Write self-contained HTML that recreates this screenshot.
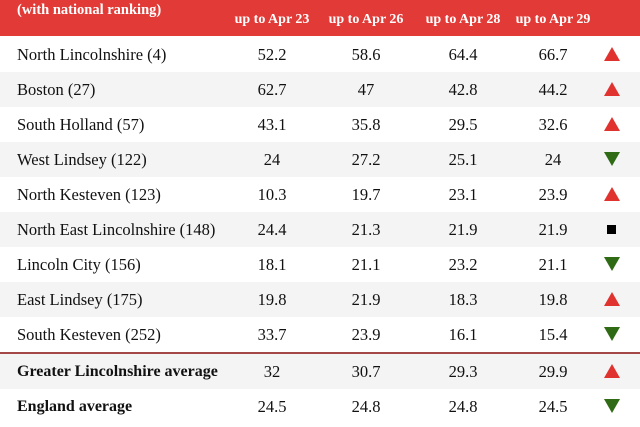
<!DOCTYPE html>
<html><head><meta charset="utf-8"><style>
body{margin:0;width:640px;height:427px;background:#fff;overflow:hidden;font-family:"Liberation Serif",serif;}
#t{position:relative;width:640px;height:427px;}
.hdr{position:absolute;left:0;top:0;width:640px;height:36px;background:#e23b37;}
.h{position:absolute;color:#fff;font-weight:bold;font-size:14px;white-space:nowrap;}
.row{position:absolute;left:0;width:640px;height:35px;}
.c{position:absolute;font-size:16.5px;color:#111;white-space:nowrap;line-height:35px;top:0;}
.n{transform:translateX(-50%);}
.tri{position:absolute;top:10px;left:604px;width:0;height:0;border-left:8px solid transparent;border-right:8px solid transparent;}
.up{border-bottom:14px solid #e0332f;}
.dn{border-top:14px solid #2f6a14;}
.sq{position:absolute;top:13px;left:607px;width:9px;height:9px;background:#000;}
.div{position:absolute;left:0;top:352px;width:640px;height:2px;background:#a34747;}
</style></head><body>
<div id="t">
<div class="hdr">
<div class="h" style="left:17px;top:2px;font-size:14.5px">(with national ranking)</div>
<div class="h n" style="left:272px;top:12px">up to Apr 23</div>
<div class="h n" style="left:366px;top:12px">up to Apr 26</div>
<div class="h n" style="left:463px;top:12px">up to Apr 28</div>
<div class="h n" style="left:553px;top:12px">up to Apr 29</div>
</div>
<div class="div"></div>
</div>
<script>
const areas=["North Lincolnshire (4)","Boston (27)","South Holland (57)","West Lindsey (122)","North Kesteven (123)","North East Lincolnshire (148)","Lincoln City (156)","East Lindsey (175)","South Kesteven (252)","Greater Lincolnshire average","England average"];
const apr23=["52.2","62.7","43.1","24","10.3","24.4","18.1","19.8","33.7","32","24.5"];
const apr26=["58.6","47","35.8","27.2","19.7","21.3","21.1","21.9","23.9","30.7","24.8"];
const apr28=["64.4","42.8","29.5","25.1","23.1","21.9","23.2","18.3","16.1","29.3","24.8"];
const apr29=["66.7","44.2","32.6","24","23.9","21.9","21.1","19.8","15.4","29.9","24.5"];
const trend=["up","up","up","dn","up","sq","dn","up","dn","up","dn"];
const tops=[37,72,107,142,177,212,247,282,317,354,389];
const colX=[272,366,463,553];
const t=document.getElementById('t');
areas.forEach((a,i)=>{
  const r=document.createElement('div');
  r.className='row';
  r.style.top=tops[i]+'px';
  const grey=(i<9&&i%2===1)||i===9;
  r.style.background=grey?'#f4f4f4':'#fff';
  
  
  const l=document.createElement('div');
  l.className='c';l.style.left='17px';l.textContent=a;
  if(i>=9){l.style.fontWeight='bold';l.style.fontSize='16px';}
  
  
  r.appendChild(l);
  [apr23,apr26,apr28,apr29].forEach((arr,j)=>{
    const c=document.createElement('div');
    c.className='c n';c.style.left=colX[j]+'px';c.textContent=arr[i];
    
    
    r.appendChild(c);
  });
  const m=document.createElement('div');
  m.className=trend[i]==='sq'?'sq':'tri '+trend[i];
  
  
  r.appendChild(m);
  t.appendChild(r);
});
</script>
</body></html>
